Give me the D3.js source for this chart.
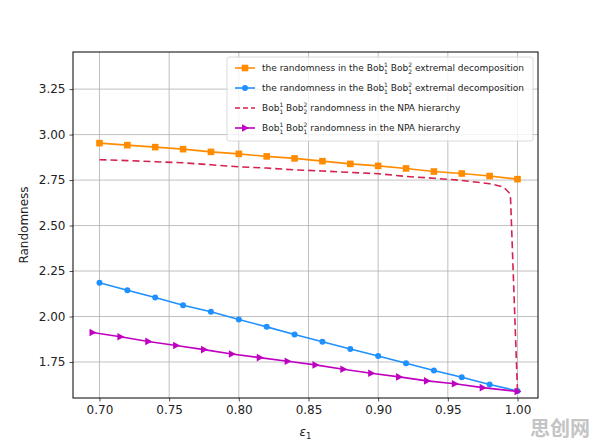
<!DOCTYPE html>
<html>
<head>
<meta charset="utf-8">
<script src="https://cdn.jsdelivr.net/npm/d3@7"></script>
<style>
  body { margin: 0; background: #fff; }
  svg { display: block; font-family: "DejaVu Sans", sans-serif; }
</style>
</head>
<body>
<svg id="chart"></svg>
<script>
// ===== DATA =====
const epsGrid = [0.70, 0.72, 0.74, 0.76, 0.78, 0.80, 0.82, 0.84, 0.86, 0.88, 0.90, 0.92, 0.94, 0.96, 0.98, 1.00];
const extremalB12B22 = [2.953, 2.942, 2.931, 2.920, 2.905, 2.894, 2.880, 2.869, 2.854, 2.839, 2.828, 2.814, 2.797, 2.786, 2.772, 2.755];
const extremalB11B21 = [2.186, 2.144, 2.104, 2.062, 2.026, 1.984, 1.943, 1.901, 1.861, 1.821, 1.783, 1.743, 1.703, 1.666, 1.626, 1.591];

const npaDashEps = [0.70, 0.72, 0.74, 0.76, 0.78, 0.80, 0.82, 0.84, 0.86, 0.88, 0.90, 0.92, 0.94, 0.96, 0.98, 0.99, 0.994, 0.995, 1.00];
const npaB12B22 = [2.862, 2.857, 2.851, 2.845, 2.834, 2.823, 2.816, 2.806, 2.800, 2.792, 2.785, 2.770, 2.760, 2.748, 2.730, 2.712, 2.680, 2.650, 1.585];

const npaTriEps = [0.695, 0.715, 0.735, 0.755, 0.775, 0.795, 0.815, 0.835, 0.855, 0.875, 0.895, 0.915, 0.935, 0.955, 0.975, 1.00];
const npaB11B21 = [1.912, 1.889, 1.863, 1.841, 1.818, 1.794, 1.774, 1.754, 1.734, 1.710, 1.688, 1.668, 1.646, 1.630, 1.609, 1.588];

const xTicks = [0.70, 0.75, 0.80, 0.85, 0.90, 0.95, 1.00];
const yTicks = [1.75, 2.00, 2.25, 2.50, 2.75, 3.00, 3.25];

const legendLabels = [
  [{t: "the randomness in the Bob"}, {sup: "1", sub: "1"}, {t: " Bob"}, {sup: "2", sub: "2"}, {t: " extremal decomposition"}],
  [{t: "the randomness in the Bob"}, {sup: "1", sub: "1"}, {t: " Bob"}, {sup: "2", sub: "1"}, {t: " extremal decomposition"}],
  [{t: "Bob"}, {sup: "1", sub: "1"}, {t: " Bob"}, {sup: "2", sub: "2"}, {t: " randomness in the NPA hierarchy"}],
  [{t: "Bob"}, {sup: "1", sub: "1"}, {t: " Bob"}, {sup: "2", sub: "1"}, {t: " randomness in the NPA hierarchy"}]
];

// ===== LAYOUT =====
const width = 596, height = 446;
const margin = {top: 52, right: 58, bottom: 48, left: 73};

const svg = d3.select("#chart")
  .attr("width", width)
  .attr("height", height);

const xScale = d3.scaleLinear()
  .domain([0.681, 1.0147])
  .range([margin.left, width - margin.right]);

const yScale = d3.scaleLinear()
  .domain([1.552, 3.454])
  .range([height - margin.bottom, margin.top]);

// ===== GRID =====
const grid = svg.append("g");
grid.selectAll(".gx")
  .data(xTicks)
  .enter()
  .append("line")
  .attr("x1", d => xScale(d))
  .attr("x2", d => xScale(d))
  .attr("y1", margin.top)
  .attr("y2", height - margin.bottom)
  .attr("stroke", "#b0b0b0")
  .attr("stroke-width", 0.8);

grid.selectAll(".gy")
  .data(yTicks)
  .enter()
  .append("line")
  .attr("x1", margin.left)
  .attr("x2", width - margin.right)
  .attr("y1", d => yScale(d))
  .attr("y2", d => yScale(d))
  .attr("stroke", "#b0b0b0")
  .attr("stroke-width", 0.8);

// ===== AXES =====
const xAxis = svg.append("g")
  .attr("transform", `translate(0,${height - margin.bottom})`)
  .call(d3.axisBottom(xScale).tickValues(xTicks).tickFormat(d3.format(".2f")).tickSize(3.5).tickPadding(4));

const yAxis = svg.append("g")
  .attr("transform", `translate(${margin.left},0)`)
  .call(d3.axisLeft(yScale).tickValues(yTicks).tickFormat(d3.format(".2f")).tickSize(3.5).tickPadding(4));

[xAxis, yAxis].forEach(ax => {
  ax.select(".domain").remove();
  ax.selectAll("text")
    .attr("font-family", "DejaVu Sans, sans-serif")
    .attr("font-size", 12)
    .attr("fill", "#222");
  ax.selectAll("line").attr("stroke", "#222").attr("stroke-width", 0.8);
});

// frame
svg.append("rect")
  .attr("x", margin.left)
  .attr("y", margin.top)
  .attr("width", width - margin.left - margin.right)
  .attr("height", height - margin.top - margin.bottom)
  .attr("fill", "none")
  .attr("stroke", "#000")
  .attr("stroke-width", 1);

// ===== AXIS LABELS =====
svg.append("text")
  .attr("transform", "rotate(-90)")
  .attr("x", -(margin.top + height - margin.bottom) / 2)
  .attr("y", 28)
  .attr("text-anchor", "middle")
  .attr("font-size", 12)
  .attr("fill", "#222")
  .text("Randomness");

const xLabel = svg.append("text")
  .attr("x", (margin.left + width - margin.right) / 2)
  .attr("y", 436)
  .attr("text-anchor", "middle")
  .attr("font-size", 12)
  .attr("fill", "#222");
xLabel.append("tspan").attr("font-style", "italic").text("ε");
xLabel.append("tspan").attr("font-size", 8.5).attr("dy", 3).text("1");

// ===== SERIES =====
const lineGen = d3.line()
  .x(d => xScale(d[0]))
  .y(d => yScale(d[1]));

const orangeData = epsGrid.map((e, i) => [e, extremalB12B22[i]]);
const blueData = epsGrid.map((e, i) => [e, extremalB11B21[i]]);
const dashData = npaDashEps.map((e, i) => [e, npaB12B22[i]]);
const purpleData = npaTriEps.map((e, i) => [e, npaB11B21[i]]);

const plot = svg.append("g");

const series = [
  {data: orangeData, color: "#ff8c00", marker: "square", dash: null},
  {data: blueData, color: "#1e90ff", marker: "circle", dash: null},
  {data: dashData, color: "#d6204f", marker: null, dash: "7,4"},
  {data: purpleData, color: "#c000c0", marker: "triangle", dash: null}
];

function drawMarker(g, type, x, y, color) {
  if (type === "square") {
    g.append("rect")
      .attr("x", x - 3.3).attr("y", y - 3.3)
      .attr("width", 6.6).attr("height", 6.6)
      .attr("fill", color);
  } else if (type === "circle") {
    g.append("circle")
      .attr("cx", x).attr("cy", y).attr("r", 3)
      .attr("fill", color);
  } else if (type === "triangle") {
    g.append("path")
      .attr("d", `M${x + 4},${y} L${x - 3},${y - 3.8} L${x - 3},${y + 3.8} Z`)
      .attr("fill", color);
  }
}

series.forEach(s => {
  plot.append("path")
    .datum(s.data)
    .attr("fill", "none")
    .attr("stroke", s.color)
    .attr("stroke-width", 1.6)
    .attr("stroke-dasharray", s.dash)
    .attr("d", lineGen);
  if (s.marker) {
    s.data.forEach(d => drawMarker(plot, s.marker, xScale(d[0]), yScale(d[1]), s.color));
  }
});

// ===== LEGEND =====
const legend = svg.append("g").attr("transform", "translate(227,57)");

legend.append("rect")
  .attr("width", 306)
  .attr("height", 84)
  .attr("rx", 2)
  .attr("fill", "rgba(255,255,255,0.8)")
  .attr("stroke", "#d0d0d0")
  .attr("stroke-width", 0.8);

const legendFont = 9;
const smallFont = 6;
const digitW = smallFont * 0.636;

legendLabels.forEach((parts, i) => {
  const s = series[i];
  const y = 11 + i * 20;
  legend.append("line")
    .attr("x1", 8).attr("x2", 28)
    .attr("y1", y).attr("y2", y)
    .attr("stroke", s.color)
    .attr("stroke-width", 1.6)
    .attr("stroke-dasharray", s.dash ? "5,3" : null);
  if (s.marker) drawMarker(legend, s.marker, 18, y, s.color);

  const txt = legend.append("text")
    .attr("x", 35)
    .attr("y", y + 3)
    .attr("font-size", legendFont)
    .attr("fill", "#222");
  let pending = 0;
  parts.forEach(p => {
    if (p.t !== undefined) {
      txt.append("tspan").attr("dy", pending).text(p.t);
      pending = 0;
    } else {
      txt.append("tspan").attr("font-size", smallFont).attr("dy", -3.9).text(p.sup);
      txt.append("tspan").attr("font-size", smallFont).attr("dx", -digitW).attr("dy", 7.1).text(p.sub);
      pending = -3.2;
    }
  });
});

// watermark
svg.append("text")
  .attr("x", 530)
  .attr("y", 436)
  .attr("font-family", "Noto Sans CJK SC, sans-serif")
  .attr("font-size", 20)
  .attr("font-weight", 700)
  .attr("fill", "#c4c4c4")
  .text("思创网");
</script>
</body>
</html>
